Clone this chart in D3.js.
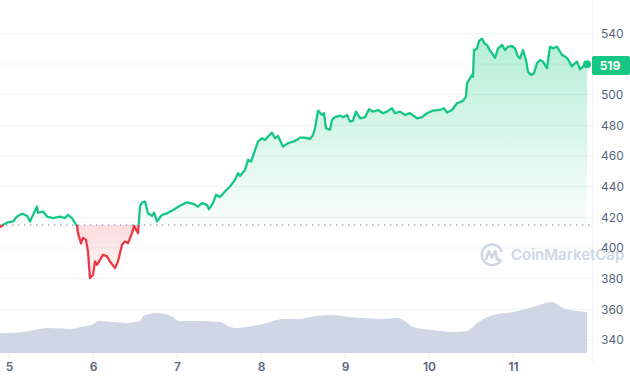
<!DOCTYPE html>
<html>
<head>
<meta charset="utf-8">
<script src="https://cdn.jsdelivr.net/npm/d3@7"></script>
<style>
  html, body { margin: 0; padding: 0; background: #fff; }
  svg { display: block; font-family: Inter, "Noto Sans", sans-serif; }
</style>
</head>
<body>
<svg id="chart" width="630" height="380"></svg>
<script>
// ---- data (hours since day 5, 00:00) ----
const priceHours = [-2.57,-1.43,-0.57,1.14,2.29,3.71,5.14,6.0,6.86,8.0,8.29,9.71,10.86,12.57,14.57,16.0,16.86,18.0,18.86,19.43,19.71,20.57,21.14,22.0,22.57,23.14,24.0,24.57,25.14,26.0,26.86,28.0,28.86,30.29,31.14,32.29,33.14,34.0,35.14,35.71,36.29,36.86,37.43,38.0,38.86,39.71,40.86,41.43,42.29,43.71,45.14,46.86,48.86,50.86,52.57,54.0,55.14,56.57,57.14,58.29,59.14,60.29,61.71,63.14,64.57,65.43,66.0,67.43,68.29,69.14,70.0,71.14,72.29,73.14,74.0,75.14,76.0,76.86,78.29,79.71,81.14,82.29,83.14,84.57,86.0,86.86,87.43,88.29,89.43,90.0,90.57,91.71,92.29,93.14,94.57,95.43,96.57,97.43,98.29,99.14,100.29,101.71,102.86,104.0,105.43,106.86,108.0,109.43,110.29,111.71,113.14,114.57,116.57,118.0,119.43,121.14,123.14,124.29,125.14,126.57,128.0,129.71,130.57,130.86,131.71,132.29,132.57,132.86,133.71,134.29,135.14,136.0,136.57,137.43,138.0,138.86,139.71,140.86,141.71,142.57,143.71,144.57,145.43,146.0,146.86,147.71,148.29,149.14,150.0,150.86,151.71,152.57,153.71,154.29,154.57,155.43,156.57,157.14,158.0,158.86,159.71,160.86,161.71,162.29,163.14,164.0,164.57,165.14];
const prices = [413.5,415.5,416.5,417.3,420.5,422.3,421,417.3,421.6,427,423,423.8,420.5,419.5,420.5,419.5,421.6,419.5,416.2,414.5,409.7,403,406.6,405.3,397.7,380.4,382.5,391.2,389,392.3,395.6,394.5,391.2,386.9,391.2,402.1,404.3,403.2,409.7,414.5,412,409.7,427,429.6,430.3,422.6,421,423,417.3,421.6,422.6,424.8,427.5,429.8,428.8,427,429.3,428.1,425.3,429.3,434.7,433.2,436.8,440.1,444.4,448.8,447,450.9,457.5,456.4,461.8,469.4,471.6,470.5,472.6,475.3,471.6,473.1,466.1,468.3,469.4,470.5,472,472,471.1,473.7,478,489.6,486.8,487.9,478.1,477,483.5,485.3,486.3,485.3,486.8,482.4,483.1,488.9,484.6,485.3,490.5,488.9,490,487.9,488.9,491.1,487.9,488.9,486.8,487.9,484.6,485.3,487.9,489.6,490,491.1,488.3,490,494.4,495.9,498.7,507.4,510.7,512.8,511.7,529.1,530,535,536.5,533,532.4,528.7,527,524,530,532.4,529.1,531.3,531.7,530.2,524.8,523.7,529.1,522.6,515,512.8,514,520.5,522.6,521.5,517.2,527,531.3,530.2,531.3,529.1,525.9,524.8,523.1,518.3,520.5,521.5,516.5,518.3,520.5,519.8];
const volumeHours = [-2.57,-0.57,4.0,8.86,10.86,18.29,20.29,23.71,25.43,29.71,33.71,37.43,38.29,42.29,46.86,48.29,54.57,60.29,63.14,65.14,69.71,73.71,78.29,83.14,86.0,91.71,97.43,106.86,110.86,113.14,115.43,121.14,126.86,130.86,133.71,138.29,144.0,149.71,155.14,158.29,162.29,165.14];
const volumes = [20,20,21,24,25,24,26,28,32,31,30,32,37,40,36,32,32,31,26,25,27,30,34,34,36,38,36,34,35,32,26,23,21,22,30,38,41,46,51,45,42,41];
const yTicks = [340,360,380,400,420,440,460,480,500,520,540];
const yTickLabels = [340,360,380,400,420,440,460,480,500,540]; // 520 sits under the price tag
const dayTicks = [5,6,7,8,9,10,11];
const openPrice = 415;
const lastPrice = 519;

// ---- setup ----
const W = 630, H = 380;
const svg = d3.select("#chart");
const base = new Date(2023, 2, 5, 0, 0, 0);
const toDate = h => new Date(base.getTime() + h * 3600e3);
const x = d3.scaleTime()
  .domain([toDate(priceHours[0]), toDate(priceHours[priceHours.length - 1])])
  .range([0, 587]);
const y = d3.scaleLinear().domain([340, 540]).range([340, 33.3]);
const yv = d3.scaleLinear().domain([0, 53]).range([353, 300]);

const pdata = priceHours.map((h, i) => ({ t: toDate(h), v: prices[i] }));
const vdata = volumeHours.map((h, i) => ({ t: toDate(h), v: volumes[i] }));

const green = "#16c784", red = "#ea3943";
const defs = svg.append("defs");
const gg = defs.append("linearGradient").attr("id", "gGreen")
  .attr("gradientUnits", "userSpaceOnUse").attr("x1", 0).attr("x2", 0)
  .attr("y1", y(540)).attr("y2", y(openPrice));
gg.append("stop").attr("offset", 0).attr("stop-color", green).attr("stop-opacity", 0.32);
gg.append("stop").attr("offset", 1).attr("stop-color", green).attr("stop-opacity", 0.02);
const gr = defs.append("linearGradient").attr("id", "gRed")
  .attr("gradientUnits", "userSpaceOnUse").attr("x1", 0).attr("x2", 0)
  .attr("y1", y(openPrice)).attr("y2", y(380));
gr.append("stop").attr("offset", 0).attr("stop-color", red).attr("stop-opacity", 0.18);
gr.append("stop").attr("offset", 1).attr("stop-color", red).attr("stop-opacity", 0.03);
defs.append("clipPath").attr("id", "cAbove").append("rect")
  .attr("x", -5).attr("y", 0).attr("width", W).attr("height", y(openPrice));
defs.append("clipPath").attr("id", "cBelow").append("rect")
  .attr("x", -5).attr("y", y(openPrice)).attr("width", W).attr("height", H);

// ---- grid ----
svg.append("g").selectAll("line").data(yTicks).join("line")
  .attr("x1", 0).attr("x2", 593)
  .attr("y1", d => y(d)).attr("y2", d => y(d))
  .attr("stroke", "#eff2f5").attr("stroke-width", 1);
svg.append("line").attr("x1", 592.5).attr("x2", 592.5).attr("y1", 0).attr("y2", 362)
  .attr("stroke", "#eff2f5");

// ---- watermark ----
const wm = svg.append("g").attr("transform", "translate(492,254.5)").attr("fill", "none")
  .attr("stroke", "#cfd6e4").attr("stroke-width", 2.6).attr("stroke-linecap", "round").attr("stroke-linejoin", "round");
wm.append("path").attr("d", "M 8.5 6.2 A 10.3 10.3 0 1 1 9.6 -3.6");
wm.append("path").attr("d", "M -5.8 4.5 L -3.3 -3.5 L 0 3.2 L 3.3 -3.5 L 5 4.5 L 7.5 5.5");
svg.append("text").attr("x", 511).attr("y", 259.5).text("CoinMarketCap")
  .attr("font-size", 15).attr("font-weight", 600).attr("fill", "#cfd6e4");

// ---- volume ----
svg.append("path").datum(vdata)
  .attr("d", d3.area().x(d => x(d.t)).y0(yv(0)).y1(d => yv(d.v)).curve(d3.curveMonotoneX))
  .attr("fill", "#cfd6e4");

// ---- price area & line ----
const area = d3.area().x(d => x(d.t)).y0(y(openPrice)).y1(d => y(d.v));
const line = d3.line().x(d => x(d.t)).y(d => y(d.v));
svg.append("path").datum(pdata).attr("d", area).attr("fill", "url(#gGreen)").attr("clip-path", "url(#cAbove)");
svg.append("path").datum(pdata).attr("d", area).attr("fill", "url(#gRed)").attr("clip-path", "url(#cBelow)");

svg.append("line").attr("x1", 0).attr("x2", 592).attr("y1", y(openPrice)).attr("y2", y(openPrice))
  .attr("stroke", "#a1a7bb").attr("stroke-width", 1.3).attr("stroke-dasharray", "1.3 4.7");

svg.append("path").datum(pdata).attr("d", line).attr("fill", "none").attr("stroke", green)
  .attr("stroke-width", 2.3).attr("stroke-linejoin", "round").attr("clip-path", "url(#cAbove)");
svg.append("path").datum(pdata).attr("d", line).attr("fill", "none").attr("stroke", red)
  .attr("stroke-width", 2.3).attr("stroke-linejoin", "round").attr("clip-path", "url(#cBelow)");

const last = pdata[pdata.length - 1];
svg.append("circle").attr("cx", x(last.t)).attr("cy", y(last.v)).attr("r", 4).attr("fill", green);

// ---- axes ----
const yAxis = d3.axisRight(y).tickValues(yTickLabels).tickSize(0).tickPadding(0);
const gy = svg.append("g").attr("transform", "translate(601,0)").call(yAxis);
gy.select(".domain").remove();
gy.selectAll("text").attr("font-size", 12).attr("fill", "#58667e").attr("font-family", "Inter, sans-serif").attr("text-anchor", "start");

const xAxis = d3.axisBottom(x).tickValues(dayTicks.map(d => new Date(2023, 2, d)))
  .tickFormat(d3.timeFormat("%-d")).tickSize(5).tickPadding(4);
const gx = svg.append("g").attr("transform", "translate(0,353)").call(xAxis);
gx.select(".domain").remove();
gx.selectAll(".tick line").attr("stroke", "#eff2f5");
gx.selectAll("text").attr("font-size", 12).attr("font-weight", 600).attr("fill", "#58667e").attr("font-family", "Inter, sans-serif");

// ---- last price label ----
svg.append("rect").attr("x", 592).attr("y", y(lastPrice) - 9.5).attr("width", 38).attr("height", 19)
  .attr("fill", green).attr("rx", 2);
svg.append("text").attr("x", 610).attr("y", y(lastPrice)).attr("dy", "0.35em")
  .attr("text-anchor", "middle").attr("font-size", 12).attr("font-weight", 700).attr("fill", "#fff")
  .text(lastPrice);
</script>
</body>
</html>
